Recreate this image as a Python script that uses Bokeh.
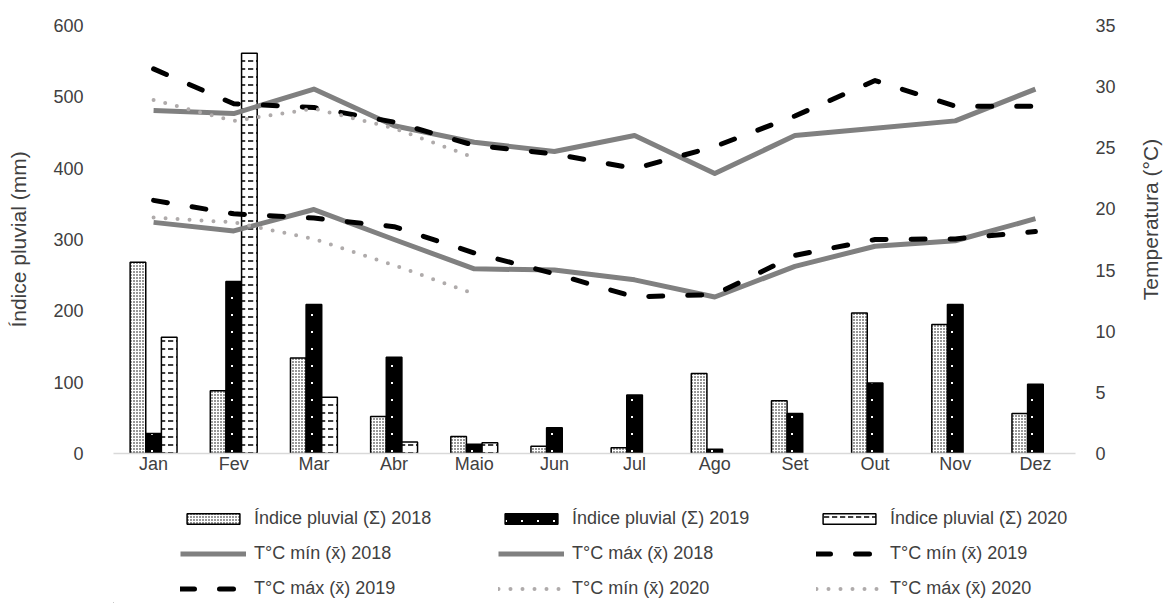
import math
import base64
from bokeh.plotting import figure
from bokeh.layouts import column
from bokeh.models import (FactorRange, Range1d, LinearAxis, Legend, LegendItem, Label,
                          FixedTicker, ColumnDataSource, ImageURLTexture)
from bokeh.transform import dodge
from bokeh.embed import file_html
from bokeh.resources import INLINE

# ---------------- data ----------------
months = ["Jan", "Fev", "Mar", "Abr", "Maio", "Jun", "Jul", "Ago", "Set", "Out", "Nov", "Dez"]
months_2020 = months[:5]

rain_2018 = [268, 88, 134, 52, 24, 10, 8, 112, 74, 197, 181, 56]
rain_2019 = [28, 241, 209, 135, 13, 36, 82, 6, 56, 99, 209, 97]
rain_2020 = [163, 561, 79, 16, 15]

tmin_2018 = [18.9, 18.2, 19.95, 17.5, 15.1, 15.0, 14.2, 12.8, 15.3, 16.95, 17.4, 19.2]
tmax_2018 = [28.05, 27.8, 29.8, 26.8, 25.45, 24.7, 26.0, 22.9, 26.0, 26.6, 27.2, 29.8]
tmin_2019 = [20.7, 19.6, 19.25, 18.55, 16.4, 14.7, 12.8, 13.0, 16.2, 17.5, 17.55, 18.15]
tmax_2019 = [31.45, 28.6, 28.3, 27.1, 25.2, 24.5, 23.3, 25.1, 27.6, 30.5, 28.4, 28.4]
tmin_2020 = [19.3, 18.9, 17.55, 15.4, 13.05]
tmax_2020 = [28.9, 27.2, 28.2, 26.6, 24.2]

left_ticks = [0, 100, 200, 300, 400, 500, 600]
right_ticks = [0, 5, 10, 15, 20, 25, 30, 35]

labels = ["Índice pluvial (Σ) 2018", "Índice pluvial (Σ) 2019", "Índice pluvial (Σ) 2020",
          "T°C mín (x\u0304) 2018", "T°C máx (x\u0304) 2018", "T°C mín (x\u0304) 2019",
          "T°C máx (x\u0304) 2019", "T°C mín (x\u0304) 2020", "T°C máx (x\u0304) 2020"]

# ---------------- style ----------------
FONT = "Liberation Sans"
TXT = "#404040"
GRAY = "#808080"
DOT = "#afabab"
W = 0.195

svg19 = ("<svg xmlns='http://www.w3.org/2000/svg' width='16' height='17'>"
         "<rect width='16' height='17' fill='black'/>"
         "<rect x='7' y='8' width='2' height='2' fill='white'/></svg>")
url19 = "data:image/svg+xml;base64," + base64.b64encode(svg19.encode()).decode()
tex19 = ImageURLTexture(url=url19)

bar18 = dict(fill_color="white", line_color="black", line_width=1.5,
             hatch_pattern="dot", hatch_color="black", hatch_scale=3, hatch_weight=1.3)
bar19 = dict(fill_color="black", line_color="black", line_width=1.5,
             hatch_pattern="pat19", hatch_extra={"dots19": tex19})
bar20 = dict(fill_color="white", line_color="black", line_width=1.5,
             hatch_pattern="horizontal_dash", hatch_color="black", hatch_scale=8, hatch_weight=1.5)
ln_solid = dict(line_color=GRAY, line_width=5, line_join="round")
ln_dash = dict(line_color="black", line_width=5, line_dash="14 25", line_cap="round", line_join="round")
ln_dot = dict(line_color=DOT, line_width=4, line_dash="0 12", line_cap="round")

# ---------------- main figure ----------------
p = figure(x_range=FactorRange(*months), y_range=Range1d(0, 600),
           width=1167, height=490, output_backend="svg", toolbar_location=None,
           min_border_left=113, min_border_right=92, min_border_top=25, min_border_bottom=37)
p.extra_y_ranges = {"temp": Range1d(0, 35)}
p.outline_line_color = None
p.xgrid.visible = False
p.ygrid.visible = False

ya = p.yaxis[0]
ya.ticker = FixedTicker(ticks=left_ticks)
ya.axis_line_color = None
ya.major_tick_line_color = None
ya.minor_tick_line_color = None
ya.major_tick_out = 0
ya.major_label_standoff = 30
ya.major_label_text_font = FONT
ya.major_label_text_font_size = "18px"
ya.major_label_text_color = TXT
ya.axis_label = "Índice pluvial (mm)"
ya.axis_label_standoff = 20
ya.axis_label_text_font = FONT
ya.axis_label_text_font_size = "21px"
ya.axis_label_text_font_style = "normal"
ya.axis_label_text_color = TXT

ra = LinearAxis(y_range_name="temp", ticker=FixedTicker(ticks=right_ticks))
ra.axis_line_color = None
ra.major_tick_line_color = None
ra.minor_tick_line_color = None
ra.major_tick_out = 0
ra.major_label_standoff = 20
ra.major_label_text_font = FONT
ra.major_label_text_font_size = "18px"
ra.major_label_text_color = TXT
p.add_layout(ra, "right")

# right axis title: reads bottom-to-top, placed in the right side panel
p.add_layout(Label(x=32, y=234, x_units="screen", y_units="screen",
                   text="Temperatura (°C)", angle=math.pi / 2,
                   text_align="center", text_baseline="middle",
                   text_font=FONT, text_font_size="21px", text_color=TXT), "right")

xa = p.xaxis[0]
xa.axis_line_color = "#d9d9d9"
xa.axis_line_width = 1.5
xa.major_tick_line_color = None
xa.minor_tick_line_color = None
xa.major_tick_out = 0
xa.major_label_standoff = 0
xa.major_label_text_font = FONT
xa.major_label_text_font_size = "18px"
xa.major_label_text_color = TXT

src = ColumnDataSource(dict(month=months, r18=rain_2018, r19=rain_2019,
                            pat19=["dots19"] * len(months)))
src20 = ColumnDataSource(dict(month=months_2020, r20=rain_2020))
p.vbar(x=dodge("month", -W, range=p.x_range), top="r18", width=W, source=src, **bar18)
p.vbar(x=dodge("month", 0, range=p.x_range), top="r19", width=W, source=src, **bar19)
p.vbar(x=dodge("month", W, range=p.x_range), top="r20", width=W, source=src20, **bar20)

p.line(months, tmin_2018, y_range_name="temp", **ln_solid)
p.line(months, tmax_2018, y_range_name="temp", **ln_solid)
p.line(months, tmin_2019, y_range_name="temp", **ln_dash)
p.line(months, tmax_2019, y_range_name="temp", **ln_dash)
p.line(months_2020, tmin_2020, y_range_name="temp", **ln_dot)
p.line(months_2020, tmax_2020, y_range_name="temp", **ln_dot)

# ---------------- legend figure ----------------
lf = figure(x_range=Range1d(0, 1), y_range=Range1d(0, 1), width=1167, height=113,
            output_backend="svg", toolbar_location=None,
            min_border_left=0, min_border_right=0, min_border_top=0, min_border_bottom=0,
            x_axis_location=None, y_axis_location=None)
lf.outline_line_color = None
lf.grid.visible = False

ls = ColumnDataSource(dict(x=[-5.0], top=[-5.0], pat19=["dots19"]))
styles = [bar18, bar19, bar20, ln_solid, ln_solid, ln_dash, ln_dash, ln_dot, ln_dot]
rends = []
for st in styles[:3]:
    rends.append(lf.vbar(x="x", top="top", width=0.1, source=ls, **st))
for st in styles[3:]:
    rends.append(lf.line(x=[-5, -4], y=[-5, -5], **st))

items = [LegendItem(label=t, renderers=[r]) for t, r in zip(labels, rends)]
leg = Legend(items=items, ncols=3, orientation="horizontal", location=(67, 4),
             glyph_width=66, glyph_height=13, label_height=13, label_width=230,
             label_standoff=8, spacing=14, padding=0, margin=0,
             label_text_font=FONT, label_text_font_size="18px", label_text_color=TXT,
             border_line_color=None, background_fill_alpha=0)
lf.add_layout(leg, "center")

layout = column(p, lf, spacing=0)
open("out.html", "w").write(file_html(layout, INLINE))
